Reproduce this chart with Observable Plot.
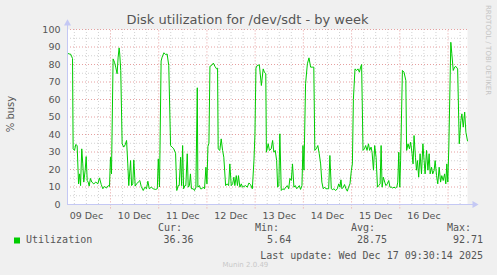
<!DOCTYPE html>
<html><head><meta charset="utf-8">
<script src="https://cdn.jsdelivr.net/npm/d3@7"></script>
<script src="https://cdn.jsdelivr.net/npm/@observablehq/plot@0.6"></script>
<style>
html,body{margin:0;padding:0;background:#f0f0f0;}
#c{position:relative;width:497px;height:275px;background:#f0f0f0;overflow:hidden;}
</style></head><body><div id="c"></div>
<script>
// hours since 2025-12-09 00:00 (UTC)
const hours = [
  2.6,3.4,4.1,4.6,5.1,5.4,6.1,6.7,7.4,8.1,8.6,9.1,9.7,10.2,10.7,11.4,11.9,12.4,12.9,13.4,14.0,14.7,15.7,16.7,17.7,18.5,19.4,20.2,21.0,22.0,22.9,23.5,
  24.0,24.5,25.3,26.0,26.6,27.3,27.8,28.3,28.6,29.1,29.8,30.6,31.3,32.0,32.6,33.1,34.0,34.5,35.1,35.6,36.3,37.0,37.8,38.6,39.3,40.3,41.1,41.9,42.6,43.3,44.3,45.3,46.4,47.3,47.8,
  48.4,49.2,49.7,50.6,51.4,52.2,53.0,53.9,54.7,55.5,56.4,57.0,57.7,58.2,58.9,59.4,59.9,60.4,61.0,61.5,62.2,62.7,63.3,63.8,64.3,65.2,65.8,66.5,67.2,67.5,68.3,68.8,69.5,70.2,70.8,71.5,
  72.0,72.5,73.0,73.5,74.3,75.2,76.0,76.8,77.3,77.6,78.4,79.1,79.8,80.4,81.3,82.1,82.8,83.4,84.1,84.8,85.4,85.9,86.6,87.2,87.7,88.4,89.1,89.7,90.4,91.2,92.1,92.9,93.7,94.6,95.4,
  95.9,96.4,97.0,98.1,99.1,100.0,100.6,101.3,101.6,102.5,103.1,104.0,104.7,105.3,106.0,106.7,107.2,107.8,108.3,109.0,109.8,110.5,111.2,112.0,112.7,113.3,114.0,114.6,115.3,116.0,116.7,117.3,118.0,118.6,119.3,119.8,
  120.3,121.1,122.0,122.8,123.6,124.4,125.2,125.7,126.4,127.2,127.9,128.6,129.2,129.9,130.6,131.2,131.9,132.6,133.2,133.9,134.6,135.2,136.1,136.9,137.6,138.2,138.7,139.2,139.9,140.5,141.2,141.9,142.5,143.2,143.9,144.4,
  144.9,145.7,146.5,147.2,147.9,148.5,149.0,149.7,150.4,151.0,151.7,152.4,153.0,153.7,154.2,154.9,155.5,156.2,156.9,157.5,158.2,158.7,159.2,159.8,160.5,161.1,161.8,162.5,163.1,163.8,164.5,165.1,165.8,166.5,167.0,167.5,168.0,
  168.4,169.3,170.1,171.0,171.4,172.1,172.8,173.4,174.1,174.6,175.1,175.8,176.3,176.8,177.4,178.1,178.8,179.5,180.1,180.6,181.3,182.0,182.6,183.1,183.8,184.4,185.1,185.6,186.3,186.9,187.6,188.3,188.9,189.6,190.3,190.9,191.4,191.9,192.4,193.4,193.9,194.6,195.3,195.9,196.8,197.6,198.4,198.9,199.6,200.3,200.9,201.7
];
const busy = [
  86.5,86,86,84.8,83.4,31.8,30.9,34.3,33.7,11.8,17.5,10.8,31.8,23.2,12.8,19.6,27.4,13.7,12.8,10.5,14.9,12.8,11.8,12.8,11.8,15.2,11.4,9.0,10.3,9.4,10.8,10.3,
  27,17.5,83.2,81.3,78.5,74.7,84.2,89.5,86,76.6,34.7,32.8,34.1,36.6,23.2,10.8,25.1,10.8,11.8,25.5,10.5,11.8,12.8,13.7,10.3,8.0,9.9,9.0,13.3,9.0,9.9,9.0,8.6,9.0,26.1,
  10,82,84.2,86.7,85.7,86,79.4,33.7,32.8,31.8,29.3,8.0,10.8,10.8,27,10.8,33.7,9.0,10.8,10.8,29,9.9,10.8,17.5,9.0,9.0,8.0,9.9,66.7,9.9,10.8,9.0,9.0,9.9,9.0,21.3,
  11.8,33.2,35,79,79.4,80.8,78.9,77.5,77.9,31.8,30.9,37.5,30.9,27,10.8,11.8,10.8,23.2,10.8,11.8,15.6,10.8,16.5,10.8,16.5,9.9,11.8,9.9,10.3,10.8,9.9,12.3,11.4,9.0,25.1,
  40,78,79.4,79.8,68,77.5,75.6,74.7,29.9,34.7,30.9,31.8,36.6,29.9,30.9,25.1,9.9,11,40.4,8.0,9.0,8.5,9.9,10.8,9.0,14.9,13.7,23.2,9.9,10.8,9.0,9.9,10.8,8.6,10.8,33.7,
  19.6,69,80.4,83.8,78.5,78.5,78.5,30.9,31.8,33.7,29,23.2,12.8,9.0,9.9,9.0,9.0,9.0,28,9.0,8.5,9.0,8.0,9.0,11.8,9.9,14.1,9.0,9.9,11.4,9.0,7.6,9.9,11.8,19.6,23.2,
  60,77.5,76.6,77.5,75.6,78.5,80,30.9,31.8,33.7,30.9,34.7,30.9,32.8,29.9,19.6,33.7,27,9.9,10.8,11.8,33.7,9.9,15.6,12.8,10.8,11.8,13.7,9.9,9.9,9.4,9.9,9.4,9.9,12.8,29.9,9.9,
  25,76.6,75.6,70.9,30.9,34.7,31.8,35.6,29,23.2,39.4,27,19.6,25.1,15.6,29,17.5,34.7,25.1,17.5,30.9,19.6,29,17.5,21.3,17.5,19.6,25.1,16.5,11.8,21.3,12.8,16.5,13.7,17.5,11.8,23.2,12.8,32.8,92.7,86.1,76.6,78.5,78.9,77.5,34.7,48,51.8,44.2,52.8,41.3,36.36
];
const domainHours = [2.6, 201.7];
const yTicks = [0,10,20,30,40,50,60,70,80,90,100];
const dayLabels = ["09 Dec","10 Dec","11 Dec","12 Dec","13 Dec","14 Dec","15 Dec","16 Dec"];
const statNames = ["Cur:","Min:","Avg:","Max:"];
const statValues = ["36.36","5.64","28.75","92.71"];
const seriesName = "Utilization";
const title = "Disk utilization for /dev/sdt - by week";
const yLabel = "% busy";
const lastUpdate = "Last update: Wed Dec 17 09:30:14 2025";

const T0 = Date.UTC(2025, 11, 9);
const toDate = h => new Date(T0 + h * 3600e3);
const data = hours.map((h, i) => ({t: toDate(h), v: busy[i]}));
const xDomain = domainHours.map(toDate);
const minorY = d3.range(5, 100, 10);
const majorY = yTicks.slice(1);
const dayLines = d3.range(24, domainHours[1], 24).map(toDate);
const sixHour = d3.range(6, domainHours[1], 6).filter(h => h % 24 !== 0 && h > domainHours[0]).map(toDate);
const labelTicks = dayLabels.map((d, i) => toDate(i * 24 + 12));
const axisColor = "#c4c8f4";
const arrowEnd = toDate(domainHours[1] + 3.5);

const plot = Plot.plot({
  width: 497, height: 275,
  marginLeft: 67, marginRight: 30, marginTop: 29, marginBottom: 71,
  style: {background: "transparent", fontFamily: "DejaVu Sans", fontSize: "9.5px", color: "#555", overflow: "visible"},
  x: {type: "utc", domain: xDomain},
  y: {domain: [0, 100]},
  marks: [
    Plot.frame({fill: "white", stroke: null}),
    Plot.ruleY(minorY, {stroke: "#d2d2d2", strokeDasharray: "1,2"}),
    Plot.ruleX(sixHour, {stroke: "#d2d2d2", strokeDasharray: "1,2"}),
    Plot.ruleY(majorY, {stroke: "#e6a0a0", strokeDasharray: "1,2"}),
    Plot.ruleX(dayLines, {y1: -2.5, y2: 100, stroke: "#e6a0a0", strokeDasharray: "1,2"}),
    Plot.line(data, {x: "t", y: "v", stroke: "#00cc00", strokeWidth: 1}),
    Plot.ruleX([xDomain[0]], {y1: 0, y2: 102.5, stroke: axisColor}),
    Plot.ruleY([0], {x1: xDomain[0], x2: arrowEnd, stroke: axisColor}),
    Plot.dot([0], {x: xDomain[0], y: 103.5, symbol: "triangle", r: 2.6, fill: axisColor, stroke: null}),
    Plot.dot([0], {x: arrowEnd, y: 0, symbol: "triangle", r: 2.6, rotate: 90, fill: axisColor, stroke: null}),
    Plot.axisY({ticks: yTicks, tickSize: 0, tickPadding: 7, label: null}),
    Plot.axisX({ticks: labelTicks, tickFormat: (d, i) => dayLabels[i], tickSize: 0, tickPadding: 8, label: null})
  ]
});

const svg = d3.select(plot);
const txt = (x, y, s, o = {}) => {
  const t = svg.append("text").attr("x", x).attr("y", y).text(s)
    .attr("font-family", o.family || "DejaVu Sans Mono")
    .attr("font-size", o.size || "10px")
    .attr("fill", o.fill || "#555")
    .attr("text-anchor", o.anchor || "start");
  if (o.transform) t.attr("transform", o.transform).attr("x", 0).attr("y", 0);
  return t;
};
txt(247.5, 24, title, {family: "DejaVu Sans", size: "13px", anchor: "middle"});
txt(0, 0, yLabel, {family: "DejaVu Sans", size: "10px", anchor: "middle", transform: "translate(13.5,114) rotate(-90)"});
txt(0, 0, "RRDTOOL / TOBI OETIKER", {family: "DejaVu Sans", size: "7px", fill: "#c4c4c4", transform: "translate(486,5) rotate(90)"});
svg.append("rect").attr("x", 14).attr("y", 237.5).attr("width", 6).attr("height", 6).attr("fill", "#00cc00");
txt(26, 243.3, seriesName);
const nameX = [158, 255, 351, 447];
const valEnd = [193.5, 291.2, 387, 483];
statNames.forEach((n, i) => {
  txt(nameX[i], 230.8, n);
  txt(valEnd[i], 243.3, statValues[i], {anchor: "end"});
});
txt(483, 258.8, lastUpdate, {anchor: "end"});
txt(222.5, 266.5, "Munin 2.0.49", {family: "DejaVu Sans", size: "7px", fill: "#c8c8c8"});

document.getElementById("c").appendChild(plot);
</script>
</body></html>
